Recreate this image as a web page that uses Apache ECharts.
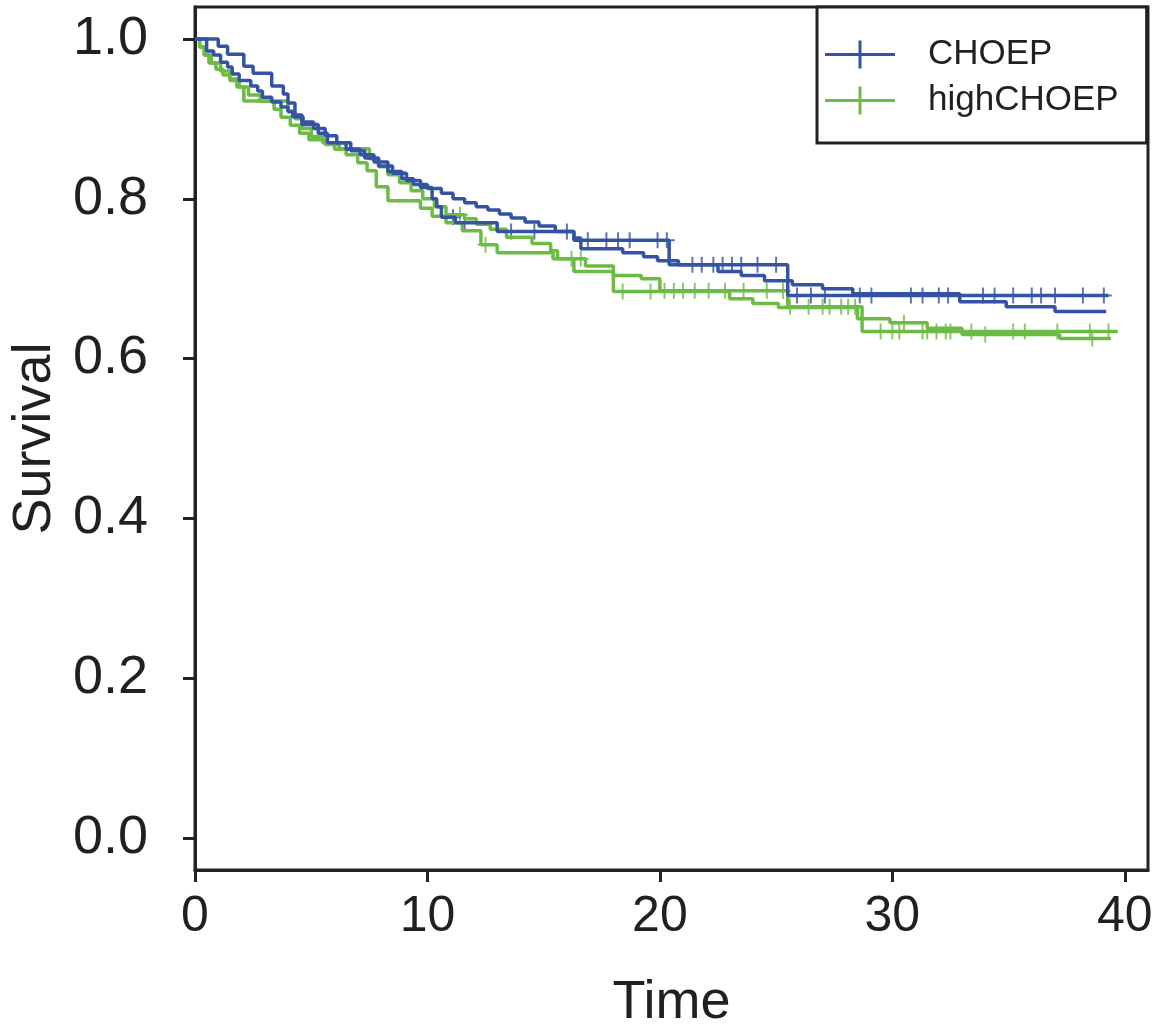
<!DOCTYPE html>
<html>
<head>
<meta charset="utf-8">
<script src="https://cdn.jsdelivr.net/npm/echarts@6/dist/echarts.min.js"></script>
<style>
  html, body { margin: 0; padding: 0; background: #fff; }
  #chart { width: 1153px; height: 1027px; }
</style>
</head>
<body>
<div id="chart"></div>
<script>
// survival curves (time, survival after the step)
var choepA_t = [0, 1.0, 1.4, 2.1, 2.5, 3.3, 3.8, 4.0, 4.3, 4.6, 5.3, 5.7, 6.5, 7.1, 7.7, 8.3, 8.9, 9.4, 10.0, 10.6, 11.1, 11.6, 12.1, 12.6, 13.1, 13.6, 14.2, 14.8, 15.5, 16.3, 20.4, 25.5, 39.3];
var choepA_s = [1.0, 0.991, 0.981, 0.966, 0.957, 0.941, 0.931, 0.92, 0.905, 0.893, 0.882, 0.87, 0.862, 0.855, 0.846, 0.834, 0.825, 0.818, 0.813, 0.807, 0.80, 0.795, 0.79, 0.786, 0.781, 0.776, 0.771, 0.766, 0.759, 0.748, 0.7175, 0.679, 0.679];
var choepA_cens = [16.9, 17.7, 18.2, 18.7, 19.9, 20.3, 21.4, 21.8, 22.3, 22.7, 23.1, 23.5, 24.2, 25.0, 25.9, 26.5, 27.1, 28.6, 29.1, 30.8, 31.3, 32.0, 32.4, 33.9, 34.4, 35.2, 36.0, 36.4, 37.0, 38.2, 39.1];

var choepB_t = [0, 0.5, 0.8, 1.1, 1.4, 1.6, 1.9, 2.4, 2.7, 2.9, 3.3, 3.7, 4.0, 4.2, 4.65, 5.1, 5.6, 6.1, 6.7, 7.3, 7.9, 8.5, 9.1, 9.7, 10.2, 10.4, 10.6, 11.2, 13.0, 16.3, 16.6, 18.4, 19.3, 19.9, 20.8, 22.5, 23.5, 24.5, 25.7, 27.0, 28.3, 32.9, 34.9, 37.0, 39.2];
var choepB_s = [1.0, 0.985, 0.98, 0.971, 0.965, 0.956, 0.948, 0.941, 0.935, 0.927, 0.921, 0.915, 0.909, 0.9025, 0.896, 0.888, 0.879, 0.87, 0.86, 0.851, 0.841, 0.832, 0.823, 0.814, 0.80, 0.79, 0.777, 0.77, 0.759, 0.751, 0.7375, 0.7325, 0.7275, 0.7225, 0.7175, 0.709, 0.704, 0.6975, 0.6925, 0.6875, 0.681, 0.671, 0.665, 0.659, 0.659];
var choepB_cens = [11.1, 11.6, 13.6, 14.6, 16.0];

var highA_t = [0, 0.2, 0.4, 0.7, 1.1, 1.5, 1.9, 2.3, 2.8, 3.4, 3.7, 4.1, 4.5, 4.9, 5.6, 6.2, 7.5, 7.9, 8.3, 8.8, 9.3, 9.8, 10.3, 10.8, 11.6, 12.1, 12.7, 13.4, 14.5, 15.3, 15.6, 16.8, 18.0, 19.2, 20.0, 25.5, 28.7, 39.7];
var highA_s = [1.0, 0.99, 0.98, 0.97, 0.96, 0.95, 0.94, 0.93, 0.922, 0.912, 0.902, 0.892, 0.882, 0.874, 0.868, 0.8625, 0.85, 0.84, 0.83, 0.82, 0.81, 0.80, 0.79, 0.78, 0.775, 0.768, 0.762, 0.752, 0.744, 0.735, 0.725, 0.716, 0.704, 0.70, 0.685, 0.665, 0.634, 0.634];
var highA_cens = [11.4, 16.2, 16.6, 20.2, 20.6, 21.0, 21.5, 22.1, 22.8, 23.6, 24.6, 25.3, 25.6, 26.4, 27.0, 27.3, 27.8, 28.1, 28.4, 29.5, 30.0, 30.3, 31.3, 31.5, 31.9, 32.3, 32.5, 33.4, 35.2, 35.7, 37.1, 38.5, 39.3];

var highB_t = [0, 0.2, 0.4, 0.6, 0.9, 1.2, 1.5, 1.8, 2.1, 4.0, 4.3, 4.6, 5.0, 5.5, 6.0, 6.5, 7.0, 7.4, 7.8, 8.3, 9.7, 10.2, 10.8, 11.5, 12.3, 13.0, 15.4, 16.3, 18.0, 23.0, 24.0, 25.1, 28.5, 29.9, 31.5, 33.0, 37.2, 39.4];
var highB_s = [1.0, 0.99, 0.98, 0.97, 0.962, 0.955, 0.948, 0.94, 0.9225, 0.91, 0.90, 0.888, 0.878, 0.87, 0.862, 0.855, 0.845, 0.835, 0.815, 0.7975, 0.788, 0.778, 0.77, 0.76, 0.7425, 0.7325, 0.725, 0.709, 0.684, 0.675, 0.669, 0.664, 0.65, 0.645, 0.638, 0.63, 0.625, 0.625];
var highB_cens = [12.5, 18.4, 19.6, 30.5, 34.0, 38.6];

var xTicks = [0, 10, 20, 30, 40];
var yTicks = [0, 0.2, 0.4, 0.6, 0.8, 1.0];

var BLUE = '#3453a2';
var GREEN = '#6cbb45';
var INK = '#231f20';
var PLUS = 'path://M7,0h2v16h-2z M0,7h16v2h-16z';
var FONT = 'Liberation Sans';

function pairs(t, s) {
  var out = [];
  for (var i = 0; i < t.length; i++) out.push([t[i], s[i]]);
  return out;
}
// survival at a censor time = value of the last step at or before it
function censPoints(t, s, cens) {
  return cens.map(function(c) {
    var k = 0;
    for (var i = 0; i < t.length; i++) if (t[i] <= c) k = i;
    return [c, s[k]];
  });
}
function curve(name, color, t, s) {
  return {
    name: name, type: 'line', step: 'end', data: pairs(t, s),
    showSymbol: false, silent: true,
    lineStyle: { color: color, width: 3.5 }, itemStyle: { color: color }
  };
}
function marks(name, color, t, s, cens) {
  return {
    name: name, type: 'scatter', data: censPoints(t, s, cens),
    symbol: PLUS, symbolSize: 16, silent: true,
    itemStyle: { color: color }
  };
}

var chart = echarts.init(document.getElementById('chart'));
chart.setOption({
  animation: false,
  backgroundColor: '#fff',
  grid: { left: 195, right: 5, top: 7, bottom: 157, outerBoundsMode: 'none', containLabel: false,
    show: true, borderColor: '#222', borderWidth: 3 },
  legend: {
    orient: 'vertical', left: 817, top: 7,
    padding: [30, 28, 25, 8], itemWidth: 70, itemHeight: 28, itemGap: 11,
    borderColor: '#222', borderWidth: 3, backgroundColor: '#fff',
    textStyle: { fontFamily: FONT, fontSize: 35, lineHeight: 28, color: INK, padding: [0, 0, 0, 28] },
    data: [
      { name: 'CHOEP', icon: 'path://M0,12.5h70v3h-70z M33.5,0h3v28h-3z', itemStyle: { color: BLUE, borderWidth: 0 } },
      { name: 'highCHOEP', icon: 'path://M0,12.5h70v3h-70z M33.5,0h3v28h-3z', itemStyle: { color: GREEN, borderWidth: 0 } }
    ]
  },
  xAxis: {
    type: 'value', min: 0, max: 41,
    name: 'Time', nameLocation: 'middle', nameGap: 106,
    nameTextStyle: { fontFamily: FONT, fontSize: 54, color: INK },
    axisLine: { show: true, onZero: false, lineStyle: { color: '#222', width: 3 } },
    axisTick: { show: true, customValues: xTicks, length: 12, lineStyle: { color: '#222', width: 3 } },
    axisLabel: { customValues: xTicks, margin: 22, fontFamily: FONT, fontSize: 50, color: INK },
    splitLine: { show: false }
  },
  yAxis: {
    type: 'value', min: -0.04, max: 1.04,
    name: 'Survival', nameLocation: 'middle', nameGap: 130, nameRotate: 90,
    nameTextStyle: { fontFamily: FONT, fontSize: 54, color: INK },
    axisLine: { show: true, onZero: false, lineStyle: { color: '#222', width: 3 } },
    axisTick: { show: true, customValues: yTicks, length: 12, lineStyle: { color: '#222', width: 3 } },
    axisLabel: { customValues: yTicks, margin: 47, fontFamily: FONT, fontSize: 54, color: INK,
      formatter: function(v) { return v.toFixed(1); } },
    splitLine: { show: false }
  },
  series: [
    curve('highCHOEP', GREEN, highA_t, highA_s),
    curve('highCHOEP', GREEN, highB_t, highB_s),
    marks('highCHOEP', GREEN, highA_t, highA_s, highA_cens),
    marks('highCHOEP', GREEN, highB_t, highB_s, highB_cens),
    curve('CHOEP', BLUE, choepA_t, choepA_s),
    curve('CHOEP', BLUE, choepB_t, choepB_s),
    marks('CHOEP', BLUE, choepA_t, choepA_s, choepA_cens),
    marks('CHOEP', BLUE, choepB_t, choepB_s, choepB_cens)
  ]
});
</script>
</body>
</html>
